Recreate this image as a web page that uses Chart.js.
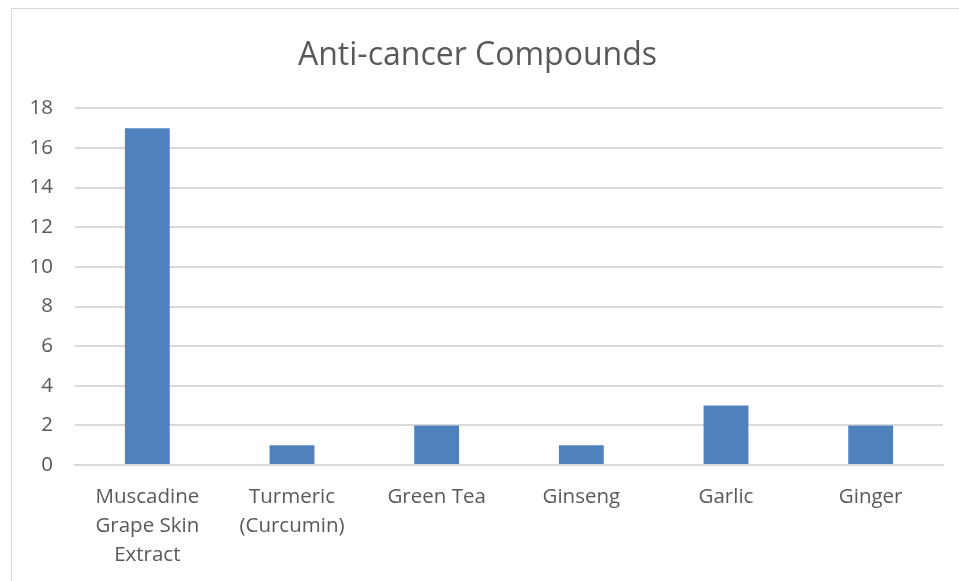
<!DOCTYPE html>
<html>
<head>
<meta charset="utf-8">
<script src="https://cdn.jsdelivr.net/npm/chart.js@4"></script>
<style>
  html, body { margin: 0; padding: 0; background: #fff; overflow: hidden; }
  #wrap { position: relative; width: 959px; height: 581px; }
  #frame { position: absolute; left: 11px; top: 8px; width: 1000px; height: 700px; border: 1.5px solid #d9d9d9; box-sizing: border-box; }
  canvas { position: absolute; left: 0; top: 0; }
</style>
</head>
<body>
<div id="wrap">
  <div id="frame"></div>
  <canvas id="c" width="959" height="581"></canvas>
</div>
<script>
const categories = [
  ["Muscadine", "Grape Skin", "Extract"],
  ["Turmeric", "(Curcumin)"],
  "Green Tea",
  "Ginseng",
  "Garlic",
  "Ginger"
];
const values = [17, 1, 2, 1, 3, 2];
const yTicks = [0, 2, 4, 6, 8, 10, 12, 14, 16, 18];
const titleText = "Anti-cancer Compounds";

const FONT = "'Open Sans', 'Noto Sans', sans-serif";
const TXT = "#595959";
const GRID = "#d9d9d9";

new Chart(document.getElementById("c"), {
  type: "bar",
  data: {
    labels: categories,
    datasets: [{
      data: values,
      backgroundColor: "#4F81BD",
      borderWidth: 0,
      categoryPercentage: 1,
      barPercentage: 0.31
    }]
  },
  options: {
    responsive: false,
    animation: false,
    devicePixelRatio: 1,
    layout: { padding: { left: 12, right: 16, top: 0, bottom: 0 } },
    plugins: {
      legend: { display: false },
      tooltip: { enabled: false },
      title: {
        display: true,
        text: titleText,
        color: TXT,
        font: { family: FONT, size: 32, weight: "normal", lineHeight: 1.2 },
        padding: { top: 37, bottom: 33 }
      }
    },
    scales: {
      x: {
        grid: { display: false, drawTicks: false },
        border: { display: true, color: GRID, width: 2 },
        ticks: {
          color: TXT,
          font: { family: FONT, size: 20.5, lineHeight: 1.41 },
          padding: 18,
          maxRotation: 0,
          autoSkip: false
        },
        afterFit: s => { s.height = 116; }
      },
      y: {
        min: 0,
        max: 18,
        afterBuildTicks: s => { s.ticks = yTicks.map(v => ({ value: v })); },
        grid: { color: GRID, lineWidth: 2, drawTicks: false },
        border: { display: false },
        ticks: {
          color: TXT,
          font: { family: FONT, size: 20.5 },
          padding: 22
        },
        afterFit: s => { s.width = 63; }
      }
    }
  }
});
</script>
</body>
</html>
